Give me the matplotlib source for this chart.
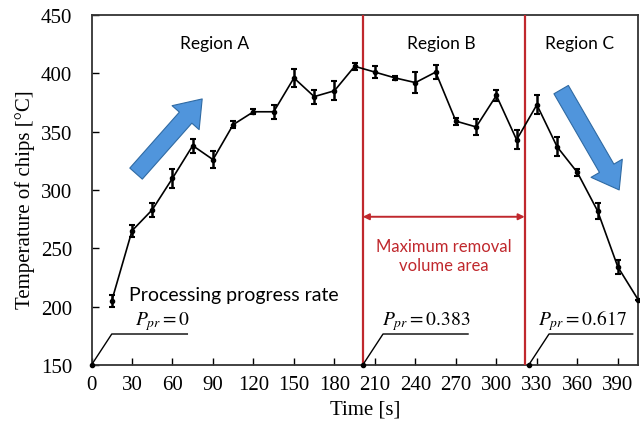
import matplotlib.pyplot as plt
import matplotlib as mpl
import numpy as np

mpl.rcParams["font.family"] = ["Liberation Serif", "DejaVu Serif"]
mpl.rcParams["mathtext.fontset"] = "stix"

# time [s] and chip temperature [C] with error bar half-widths
time_s = np.arange(15, 406, 15)
temp = [205, 265, 283, 310, 338, 326, 356, 367, 367, 396, 380, 385, 406,
        401, 396, 392, 401, 359, 354, 381, 343, 373, 337, 315, 282, 234, 206]
err = [5, 5, 6, 8, 6, 7, 3, 2, 6, 8, 6, 8, 3,
       5, 2, 9, 6, 3, 7, 5, 8, 8, 8, 3, 7, 6, 0]

region_b_start = 201
region_c_start = 321
region_names = ["Region A", "Region B", "Region C"]
region_text_x = [91, 259, 362]
ppr_labels = ["0", "0.383", "0.617"]
ppr_start = [0, 201, 324]
ppr_end = [71, 279, 401]
ppr_text_x = [32, 215, 331]

sans = ["Lato", "DejaVu Sans"]
red = "#c0282d"
blue_face = "#5095dc"
blue_edge = "#2f6aa3"

fig = plt.figure(figsize=(6.4, 4.31), dpi=100)
ax = fig.add_axes([0.143, 0.151, 0.854, 0.812])

ax.errorbar(time_s, temp, yerr=err, color="black", lw=1.2, marker="o",
            ms=3, elinewidth=1.8, capsize=2.5, capthick=1.5, clip_on=False,
            zorder=4)

# region boundaries
for xb in (region_b_start, region_c_start):
    ax.axvline(xb, color=red, lw=1.6, zorder=3)
ax.annotate("", xy=(region_b_start, 277), xytext=(region_c_start, 277),
            arrowprops=dict(arrowstyle="<|-|>", color=red, lw=1.4,
                            mutation_scale=9, shrinkA=0, shrinkB=0))
ax.text((region_b_start + region_c_start) / 2, 244,
        "Maximum removal\nvolume area", color=red, ha="center", va="center",
        family=sans, fontsize=12, linespacing=1.25)

for name, xt in zip(region_names, region_text_x):
    ax.text(xt, 426, name, ha="center", va="center", family=sans,
            fontsize=12.5)

ax.text(28, 210, "Processing progress rate", ha="left", va="center",
        family=sans, fontsize=14)

# processing progress rate leaders
for lab, x0, x1, xt in zip(ppr_labels, ppr_start, ppr_end, ppr_text_x):
    ax.plot([x0, x0 + 15, x1], [150, 176.5, 176.5], color="black", lw=1.0,
            clip_on=False, zorder=5)
    ax.plot([x0], [150], "o", color="black", ms=3, clip_on=False, zorder=5)
    ax.text(xt, 178, r"$P_{pr} = %s$" % lab, ha="left", va="bottom",
            fontsize=14)

# trend arrows
arrow_style = "simple,head_length=0.9,head_width=1.3,tail_width=0.6"
ax.annotate("", xy=(82, 378), xytext=(33, 314),
            arrowprops=dict(arrowstyle=arrow_style, fc=blue_face, ec=blue_edge,
                            lw=0.8, mutation_scale=20, shrinkA=0, shrinkB=0))
ax.annotate("", xy=(391, 300), xytext=(348, 386),
            arrowprops=dict(arrowstyle=arrow_style, fc=blue_face, ec=blue_edge,
                            lw=0.8, mutation_scale=20, shrinkA=0, shrinkB=0))

ax.set_xlim(0, 405)
ax.set_ylim(150, 450)
ax.set_xticks(np.arange(0, 391, 30))
ax.set_yticks(np.arange(150, 451, 50))
ax.tick_params(direction="in", length=5, width=1.0, labelsize=15)
ax.tick_params(axis="x", pad=7)
ax.tick_params(axis="y", pad=14)
for s in ax.spines.values():
    s.set_linewidth(1.3)
    s.set_color("#333333")

ax.set_xlabel("Time [s]", fontsize=15, labelpad=4)
ax.set_ylabel("Temperature of chips [\u00b0C]", fontsize=15)
ax.yaxis.set_label_coords(-0.104, 0.474)

fig.savefig("out.png", dpi=100)
